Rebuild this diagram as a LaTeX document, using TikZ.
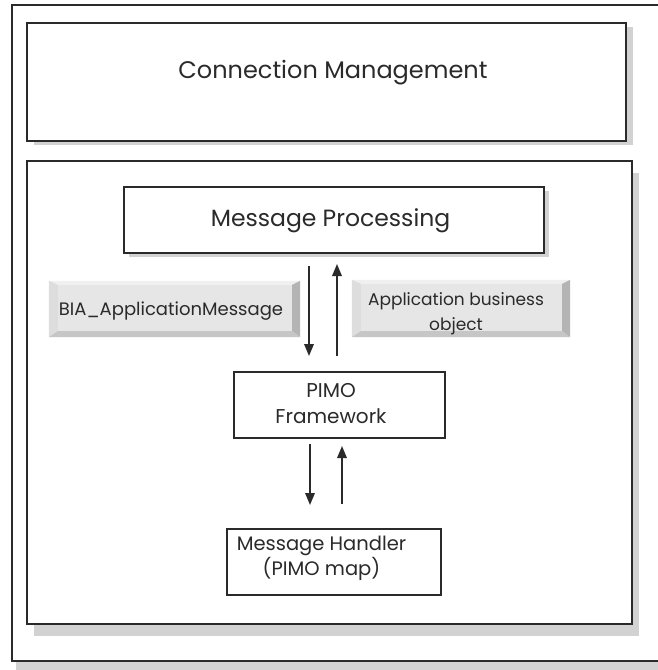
\documentclass[tikz,border=0pt]{standalone}
\usepackage{fontspec}
\setmainfont{Poppins}
\usetikzlibrary{arrows.meta,shadows}

\definecolor{ink}{HTML}{2A2A2A}
\definecolor{shade}{HTML}{D2D2D2}
\definecolor{face}{HTML}{E6E6E6}
\definecolor{bevtop}{HTML}{F0F0F0}
\definecolor{bevleft}{HTML}{DDDDDD}
\definecolor{bevright}{HTML}{B4B4B4}
\definecolor{bevbottom}{HTML}{C6C6C6}

% bevel strips round a raised grey label
\newcommand{\bevelstrips}[1]{%
  \fill[bevtop] (#1.north west) -- (#1.north east)
    -- ([shift={(-8pt,-4pt)}]#1.north east) -- ([shift={(9pt,-4pt)}]#1.north west) -- cycle;
  \fill[bevleft] (#1.north west) -- ([shift={(9pt,-4pt)}]#1.north west)
    -- ([shift={(9pt,6pt)}]#1.south west) -- (#1.south west) -- cycle;
  \fill[bevright] (#1.north east) -- ([shift={(-8pt,-4pt)}]#1.north east)
    -- ([shift={(-8pt,6pt)}]#1.south east) -- (#1.south east) -- cycle;
  \fill[bevbottom] (#1.south west) -- ([shift={(9pt,6pt)}]#1.south west)
    -- ([shift={(-8pt,6pt)}]#1.south east) -- (#1.south east) -- cycle;
}

\begin{document}
\begin{tikzpicture}[x=1pt,y=-1pt,
  frame/.style={draw=ink, line width=2pt, fill=white, inner sep=0pt},
  shadowed/.style 2 args={drop shadow={fill=shade, opacity=1,
    shadow xshift=#1pt, shadow yshift=-#2pt}},
  bevel/.style={fill=face, inner sep=0pt},
  caption/.style={inner sep=0pt, anchor=base, align=center, text=ink},
  flow/.style={draw=ink, line width=1.8pt,
    -{Triangle[width=9.5pt,length=12pt]}},
]
\useasboundingbox (0,0) rectangle (657,670);

% outer frame (its right side runs past the page edge)
\node[frame, shadowed={4}{9}, minimum width=668pt, minimum height=656pt]
  (outer) at (346,333) {};

% connection layer
\node[frame, shadowed={7}{4}, minimum width=599pt, minimum height=118pt]
  (cm) at (326.5,82) {};
\node[caption, font=\fontsize{24}{28}\selectfont] (cmtext) at (333,78)
  {Connection Management};

% processing layer
\node[frame, shadowed={7}{12}, minimum width=605pt, minimum height=463pt]
  (inner) at (329.5,392.5) {};

\node[frame, shadowed={5}{4}, minimum width=420pt, minimum height=66pt]
  (mp) at (334,220) {};
\node[caption, font=\fontsize{23.5}{28}\selectfont] (mptext) at (330.5,226)
  {Message Processing};

% multi-line captions are placed by the baseline of their last line
\node[frame, minimum width=211pt, minimum height=66pt] (pimo) at (339.5,405) {};
\node[caption, font=\fontsize{20}{26}\selectfont] (pimotext) at (331,423)
  {PIMO\\Framework};

\node[frame, minimum width=214pt, minimum height=66pt] (mh) at (334,562) {};
\node[caption, font=\fontsize{19.5}{25}\selectfont] (mhtext) at (321.5,575)
  {Message Handler\\(PIMO map)};

% grey data labels
\node[bevel, minimum width=251pt, minimum height=56pt] (bia) at (174.5,309) {};
\bevelstrips{bia}
\node[caption, font=\fontsize{18}{20}\selectfont] (biatext) at (171,315.5)
  {BIA\_ApplicationMessage};

\node[bevel, minimum width=218pt, minimum height=57pt] (abo) at (461,308.5) {};
\bevelstrips{abo}
\node[caption, font=\fontsize{17}{25}\selectfont] (abotext) at (456,330)
  {Application business\\object};

% arrow columns
\coordinate (d1) at (309,0);
\coordinate (u1) at (337,0);
\coordinate (d2) at (310,0);
\coordinate (u2) at (342,0);

\draw[flow, shorten <=12pt, shorten >=15pt] (mp.south -| d1) -- (pimo.north -| d1);
\draw[flow, shorten <=15pt, shorten >=10pt] (pimo.north -| u1) -- (mp.south -| u1);
\draw[flow, shorten <=5pt, shorten >=23pt] (pimo.south -| d2) -- (mh.north -| d2);
\draw[flow, shorten <=24pt, shorten >=7pt] (mh.north -| u2) -- (pimo.south -| u2);
\end{tikzpicture}
\end{document}
